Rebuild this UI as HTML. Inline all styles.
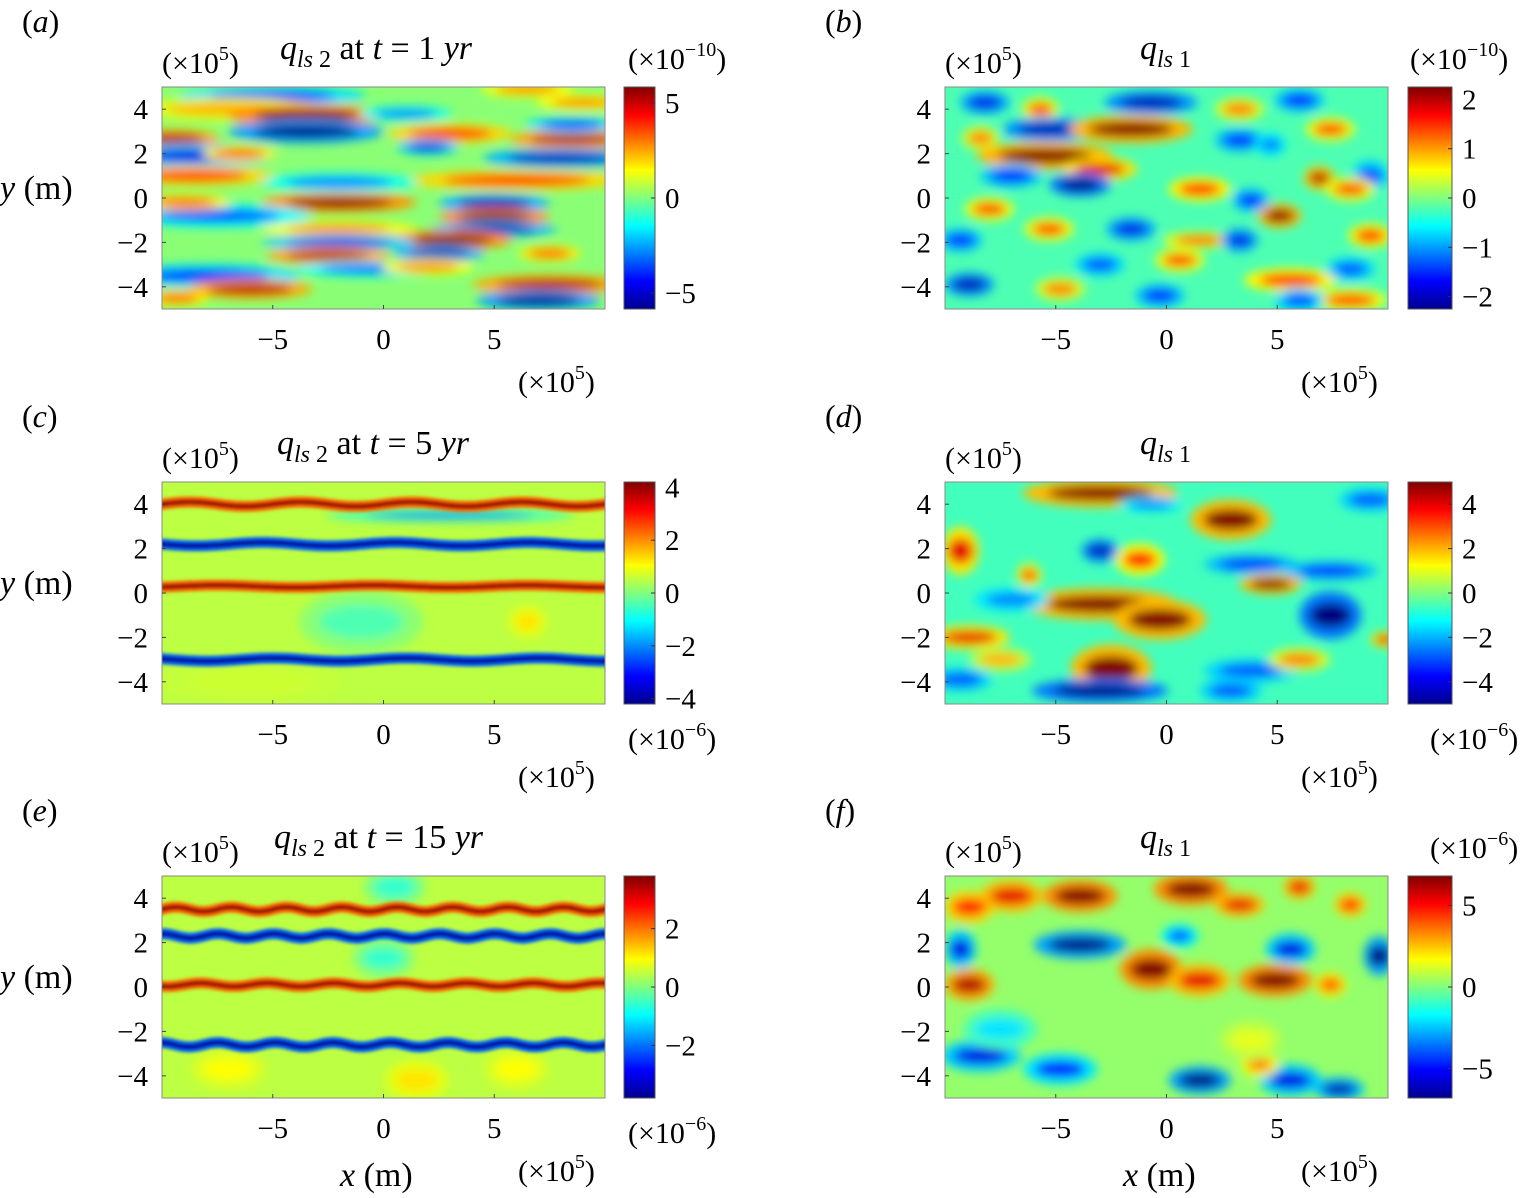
<!DOCTYPE html>
<html><head><meta charset="utf-8"><style>
html,body{margin:0;padding:0;background:#fff;}
svg{display:block;font-family:"Liberation Serif",serif;}
</style></head><body>
<svg id="fig" width="1529" height="1198" viewBox="0 0 1529 1198" xmlns="http://www.w3.org/2000/svg">
<defs>
<filter id="blur" x="-50%" y="-50%" width="200%" height="200%"><feGaussianBlur stdDeviation="5"/></filter>
<filter id="blurS" x="-10%" y="-50%" width="120%" height="200%"><feGaussianBlur stdDeviation="1.6"/></filter>
<linearGradient id="jetGrad" x1="0" y1="1" x2="0" y2="0">
<stop offset="0" stop-color="#00008f"/><stop offset="0.125" stop-color="#0000ff"/><stop offset="0.375" stop-color="#00ffff"/><stop offset="0.625" stop-color="#ffff00"/><stop offset="0.875" stop-color="#ff0000"/><stop offset="1" stop-color="#800000"/>
</linearGradient>
</defs>
</svg>
<script>
// ---- data (x, y in units of 1e5 m; value normalized -1..1; rx, ry in data units) ----
const xTicks = [-5, 0, 5];
const yTicks = [4, 2, 0, -2, -4];
const cbTicksA = [5, 0, -5];
const cbTicksB = [2, 1, 0, -1, -2];
const cbTicksC = [4, 2, 0, -2, -4];
const cbTicksD = [4, 2, 0, -2, -4];
const cbTicksE = [2, 0, -2];
const cbTicksF = [5, 0, -5];
const cbRanges = [5.84, 2.25, 4.2, 5.0, 3.8, 6.8];
const baseValues = [0.02, -0.1, 0.12, -0.12, 0.12, 0.04];
const blobsA = [[-5,4.6,-0.7,3,0.25],[-7,4,0.4,3,0.3],[-3.5,3.7,1,2.5,0.3],[-3.5,3.0,-1,2.5,0.3],[-9.5,2.65,0.9,1.5,0.25],[8.5,2.65,0.9,2,0.25],[3,2.9,0.7,2,0.25],[2,2.3,-0.8,1,0.2],[-8.5,1.9,-0.8,2.5,0.3],[-6.5,2.0,0.6,1.2,0.2],[8,1.8,-0.9,2.5,0.25],[-8.5,1.0,0.7,2.5,0.25],[6,0.8,0.7,3.5,0.25],[-2,0.7,-0.5,2.5,0.25],[-2,-0.2,1,2.5,0.25],[5,-0.25,-0.9,1.8,0.25],[5,-0.85,1,1.8,0.22],[-7.5,-0.8,-0.6,3,0.3],[-9,-0.2,0.6,1.5,0.2],[5,-1.4,-0.9,2,0.2],[-2,-1.4,0.5,2.5,0.2],[3,-1.9,1,2,0.25],[-2,-2.0,-0.8,2.5,0.2],[2.5,-2.5,-0.9,1.5,0.2],[-2.5,-2.6,0.9,2,0.22],[-0.5,-3.2,-0.6,2.5,0.2],[7.5,-2.5,0.6,1,0.2],[-8,-3.5,-0.7,3,0.3],[2,-3.1,0.5,1.5,0.2],[-6,-4.1,0.9,2,0.25],[-9.3,-4.5,0.6,1,0.2],[7.5,-3.9,0.9,2.5,0.25],[7,-4.6,-1,2,0.25],[6.5,4.9,0.5,1.5,0.2],[9,4.3,0.5,1.5,0.2],[8.5,3.3,-0.7,1.5,0.2],[1,3.8,-0.5,1.5,0.2]];
const blobsB = [[-8.2,4.3,-0.8,0.8,0.3],[-5.7,4,0.6,0.6,0.3],[-5.3,3.1,-0.9,1.5,0.3],[-8.4,2.7,0.5,0.6,0.3],[-0.7,4.3,-0.9,1.5,0.3],[-1.6,3.1,1,2,0.35],[3.3,4,0.5,0.8,0.3],[3.3,2.6,-0.7,0.8,0.3],[6,4.4,-0.7,0.8,0.3],[7.4,3.1,0.6,0.8,0.3],[-5.5,1.9,1,2.2,0.35],[-3,1.3,0.8,1.2,0.3],[-7,1.0,-0.7,1,0.3],[-3.9,0.6,-1,1,0.3],[1.5,0.4,0.7,1,0.3],[4.7,2.4,-0.5,0.5,0.3],[6.9,0.9,0.9,0.5,0.3],[9.2,1.0,-0.6,0.6,0.4],[8.3,0.4,0.6,0.8,0.3],[5.1,-0.8,1,0.7,0.3],[3.8,-0.1,-0.7,0.6,0.3],[-8,-0.5,0.6,0.8,0.3],[-9.3,-1.9,-0.7,0.7,0.3],[-5.3,-1.4,0.6,0.8,0.3],[-1.6,-1.4,-0.8,0.8,0.3],[1.5,-1.9,0.6,1.2,0.2],[3.3,-1.9,-0.8,0.6,0.3],[9.2,-1.7,0.7,0.7,0.3],[-3,-3,-0.6,0.8,0.3],[0.6,-2.8,0.6,0.8,0.3],[-8.9,-3.9,-0.9,0.8,0.3],[-4.8,-4.1,0.5,0.8,0.3],[-0.3,-4.4,-0.7,0.8,0.3],[5.6,-3.7,0.7,1.5,0.3],[8.3,-3.2,-0.6,0.8,0.3],[8.3,-4.6,0.6,1.2,0.3],[6,-4.6,-0.6,0.8,0.3]];
const blobsC = [[3,3.5,-0.5,4,0.15],[-1,-1.3,-0.1,2,0.8],[6.5,-1.3,0.3,0.6,0.4],[-6,-4,0.15,3,0.6]];
const bandsC = [[4.0,1,0.1,5,0],[2.2,-1,0.08,6,1],[0.3,1,0.05,7,2],[-3.0,-1,0.07,6,0.5]];
const blobsD = [[-3,4.5,1,2.5,0.35],[2.9,3.3,1,1.3,0.5],[-9.3,1.9,0.8,0.6,0.6],[-3,1.9,-0.9,0.6,0.3],[-1.2,1.5,0.7,0.8,0.4],[-6.2,0.8,0.6,0.4,0.3],[3.8,1.3,-0.7,1.5,0.25],[4.7,0.4,1,1.0,0.25],[7.4,1,-0.7,1.5,0.25],[-3,-0.5,1,2.5,0.4],[-0.3,-1.2,1,1.5,0.5],[7.4,-1,-1,1.0,0.6],[-8.9,-2,0.8,1.3,0.3],[9.9,-2.1,0.8,0.5,0.2],[-7,-0.3,-0.5,1.2,0.3],[-2.5,-3.4,1,1.3,0.6],[-3,-4.4,-1,2.2,0.3],[3.8,-3.5,-0.6,1.5,0.3],[6,-3,0.5,1,0.3],[2.9,-4.4,-0.6,1,0.3],[-9.3,-3.9,-0.6,1,0.3],[-7.5,-3,0.4,1,0.3],[9.2,4.2,-0.6,1,0.3],[-0.7,4,-0.5,1,0.2]];
const blobsE = [[-7,-3.7,0.25,1.2,0.5],[1.5,-4.2,0.3,1,0.5],[6,-3.7,0.25,1,0.5],[0.5,4.5,-0.15,1,0.5],[0,1.3,-0.15,1,0.5]];
const bandsE = [[3.5,1,0.1,2.5,0],[2.3,-1,0.1,2.5,1.5],[0.1,1,0.08,3,0],[-2.6,-1,0.1,2.6,0.8]];
const blobsF = [[-8.9,3.6,0.7,0.8,0.4],[-7,4.1,0.8,1,0.4],[-3.9,4.1,1,1.2,0.4],[1.1,4.4,1,1.2,0.4],[3.3,3.7,0.8,0.8,0.3],[6,4.5,0.8,0.5,0.3],[8.3,3.7,0.7,0.5,0.3],[-9.3,1.7,-0.8,0.5,0.5],[-3.9,1.9,-1,1.5,0.35],[0.6,2.3,-0.6,0.6,0.3],[5.6,1.7,-0.8,0.8,0.4],[9.6,1.4,-1,0.5,0.5],[-8.9,0.1,0.9,0.8,0.4],[-0.7,0.8,1,1,0.5],[1.5,0.3,0.8,1,0.4],[4.9,0.3,1,1.2,0.4],[7.4,0.1,0.6,0.5,0.3],[-8.4,-3.1,-0.8,1.3,0.4],[-4.8,-3.7,-0.7,1.2,0.4],[1.5,-4.2,-1,1,0.35],[5.6,-4.2,-0.8,1.0,0.4],[7.8,-4.6,-0.9,0.8,0.3],[4.2,-3.5,0.5,0.6,0.3],[3.8,-2.4,0.2,1,0.5],[-7.5,-1.9,-0.3,1.2,0.5]];

const NS = 'http://www.w3.org/2000/svg';
const svg = document.getElementById('fig');
function jet(v){ // v in -1..1
  const t = Math.max(0, Math.min(1, (v+1)/2));
  const c = x => Math.round(255*Math.max(0, Math.min(1, x)));
  return `rgb(${c(1.5-Math.abs(4*t-3))},${c(1.5-Math.abs(4*t-2))},${c(1.5-Math.abs(4*t-1))})`;
}
function mk(tag, attrs, parent){
  const e = document.createElementNS(NS, tag);
  for (const k in attrs) e.setAttribute(k, attrs[k]);
  (parent||svg).appendChild(e); return e;
}
function txt(x, y, s, size, anchor, name, parent){
  const t = mk('text', {x:x, y:y, 'font-size':size, 'text-anchor':anchor||'start', fill:'#000'}, parent);
  t.innerHTML = s;
  
  
  return t;
}
const W = 443, H = 222;
const panels = [
 {id:'a', X:162, Y:87, cbX:624, cbW:31, ticks:cbTicksA, blobs:blobsA, bands:[], cbExp:'top', right:false},
 {id:'b', X:945, Y:87, cbX:1408, cbW:44, ticks:cbTicksB, blobs:blobsB, bands:[], cbExp:'top', right:true},
 {id:'c', X:162, Y:482, cbX:624, cbW:31, ticks:cbTicksC, blobs:blobsC, bands:bandsC, cbExp:'bottom', right:false},
 {id:'d', X:945, Y:482, cbX:1408, cbW:44, ticks:cbTicksD, blobs:blobsD, bands:[], cbExp:'bottom', right:true},
 {id:'e', X:162, Y:876, cbX:624, cbW:31, ticks:cbTicksE, blobs:blobsE, bands:bandsE, cbExp:'bottom', right:false},
 {id:'f', X:945, Y:876, cbX:1408, cbW:44, ticks:cbTicksF, blobs:blobsF, bands:[], cbExp:'top', right:true}
];
const sub = (n) => '<tspan font-style="italic">q</tspan><tspan font-size="24" dy="8"><tspan font-style="italic">ls</tspan> ' + n + '</tspan>';
const titles = [sub(2) + '<tspan dy="-8"> at </tspan><tspan font-style="italic">t</tspan> = 1 <tspan font-style="italic">yr</tspan>',
 sub(1),
 sub(2) + '<tspan dy="-8"> at </tspan><tspan font-style="italic">t</tspan> = 5 <tspan font-style="italic">yr</tspan>',
 sub(1),
 sub(2) + '<tspan dy="-8"> at </tspan><tspan font-style="italic">t</tspan> = 15 <tspan font-style="italic">yr</tspan>',
 sub(1)];
const titleX = [280, 1140, 277, 1140, 274, 1140];
const ex10 = n => '(×10<tspan font-size="20" dy="-13">' + n + '</tspan><tspan dy="13">)</tspan>';
const cbExps = [ex10('−10'), ex10('−10'), ex10('−6'), ex10('−6'), ex10('−6'), ex10('−6')];
const e5 = ex10('5');

panels.forEach((p, i) => {
  const g = mk('g', {});
  
  
  const sx = x => p.X + (x + 10) / 20 * W;
  const sy = y => p.Y + (5 - y) / 10 * H;
  const kx = W / 20, ky = H / 10;
  const clip = mk('clipPath', {id:'clip' + p.id}, g);
  mk('rect', {x:p.X, y:p.Y, width:W, height:H}, clip);
  const hm = mk('g', {'clip-path':'url(#clip' + p.id + ')'}, g);
  
  
  const bg = mk('rect', {x:p.X - 10, y:p.Y - 10, width:W + 20, height:H + 20, fill:jet(baseValues[i])}, hm);
  
  
  const bl = mk('g', {filter:'url(#blur)'}, hm);
  p.blobs.forEach(b => {
    const h = mk('ellipse', {cx:sx(b[0]), cy:sy(b[1]), rx:b[3]*kx*1.4, ry:b[4]*ky*1.8, fill:jet(b[2]*0.45 + baseValues[i]*0.55)}, bl);
    
    
    const e = mk('ellipse', {cx:sx(b[0]), cy:sy(b[1]), rx:b[3]*kx*0.95, ry:b[4]*ky*0.95, fill:jet(b[2])}, bl);
    
    
  });
  const bd = mk('g', {filter:'url(#blurS)'}, hm);
  p.bands.forEach(b => {
    let d = '';
    for (let x = -10.5; x <= 10.5; x += 0.1) {
      const y = b[0] + b[2] * Math.sin(2 * Math.PI * x / b[3] + b[4]);
      d += (d ? 'L' : 'M') + sx(x).toFixed(1) + ',' + sy(y).toFixed(1);
    }
    const o = mk('path', {d:d, fill:'none', stroke:jet(b[1]*0.55), 'stroke-width':11}, bd);
    
    
    const c = mk('path', {d:d, fill:'none', stroke:jet(b[1]*0.95), 'stroke-width':5}, bd);
    
    
  });
  const fr = mk('rect', {x:p.X, y:p.Y, width:W, height:H, fill:'none', stroke:'#888', 'stroke-width':1}, g);
  
  
  xTicks.forEach(t => {
    mk('line', {x1:sx(t), x2:sx(t), y1:p.Y + H, y2:p.Y + H - 4, stroke:'#444'}, g);
    txt(sx(t), p.Y + H + 40, t < 0 ? '−' + (-t) : t, 29, 'middle', 'x-tick-label', g);
  });
  yTicks.forEach(t => {
    mk('line', {x1:p.X, x2:p.X + 4, y1:sy(t), y2:sy(t), stroke:'#444'}, g);
    txt(p.X - 14, sy(t) + 10, t < 0 ? '−' + (-t) : t, 29, 'end', 'y-tick-label', g);
  });
  txt(p.X, p.Y - 14, e5, 30, 'start', 'y-axis-exponent', g);
  txt(p.X + 356, p.Y + H + 83, e5, 30, 'start', 'x-axis-exponent', g);
  txt(titleX[i], p.Y - 28, titles[i], 34, 'start', 'panel-title', g);
  txt(p.right ? 825 : 22, p.Y - 55, '(<tspan font-style="italic">' + p.id + '</tspan>)', 32, 'start', 'panel-label', g);
  if (!p.right) txt(0, p.Y + 112, '<tspan font-style="italic">y</tspan> (m)', 34, 'start', 'y-axis-title', g);
  const cb = mk('rect', {x:p.cbX, y:p.Y, width:p.cbW, height:H, fill:'url(#jetGrad)', stroke:'#555'}, g);
  
  
  const R = cbRanges[i];
  const cy = v => p.Y + H / 2 - v / R * H / 2;
  p.ticks.forEach(t => {
    mk('line', {x1:p.cbX + p.cbW - 4, x2:p.cbX + p.cbW, y1:cy(t), y2:cy(t), stroke:'#333'}, g);
    txt(p.cbX + p.cbW + 10, cy(t) + 10, t < 0 ? '−' + (-t) : t, 29, 'start', 'colorbar-tick-label', g);
  });
  const ex = p.right ? (p.id === 'b' ? 1410 : 1430) : 628;
  txt(ex, p.cbExp === 'top' ? p.Y - 18 : p.Y + H + 45, cbExps[i], 30, 'start', 'colorbar-exponent', g);
});
txt(340, 1186, '<tspan font-style="italic">x</tspan> (m)', 34, 'start', 'x-axis-title');
txt(1123, 1186, '<tspan font-style="italic">x</tspan> (m)', 34, 'start', 'x-axis-title');
</script>
</body></html>
